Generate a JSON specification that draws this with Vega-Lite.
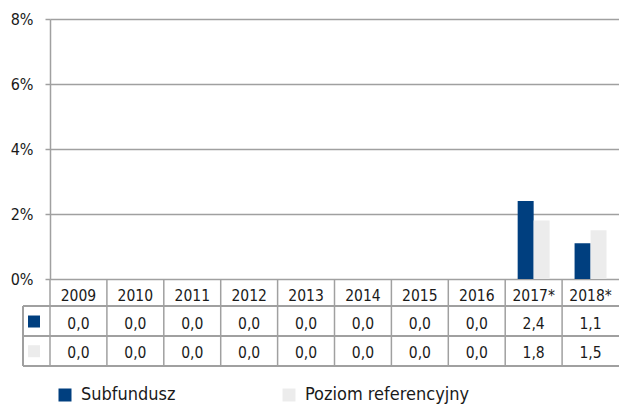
{
  "$schema": "https://vega.github.io/schema/vega-lite/v6.json",
  "width": 569,
  "height": 260,
  "autosize": {"type": "none"},
  "padding": {"left": 50, "top": 19, "right": 0, "bottom": 127},
  "background": "white",
  "config": {
    "view": {"stroke": null},
    "font": "'DejaVu Sans Condensed', 'DejaVu Sans'",
    "locale": {"number": {"decimal": ",", "thousands": " ", "grouping": [3], "currency": ["", " zł"]}}
  },
  "data": {
    "values": [
      {"year": "2009", "series": "Subfundusz", "value": 0},
      {"year": "2009", "series": "Poziom referencyjny", "value": 0},
      {"year": "2010", "series": "Subfundusz", "value": 0},
      {"year": "2010", "series": "Poziom referencyjny", "value": 0},
      {"year": "2011", "series": "Subfundusz", "value": 0},
      {"year": "2011", "series": "Poziom referencyjny", "value": 0},
      {"year": "2012", "series": "Subfundusz", "value": 0},
      {"year": "2012", "series": "Poziom referencyjny", "value": 0},
      {"year": "2013", "series": "Subfundusz", "value": 0},
      {"year": "2013", "series": "Poziom referencyjny", "value": 0},
      {"year": "2014", "series": "Subfundusz", "value": 0},
      {"year": "2014", "series": "Poziom referencyjny", "value": 0},
      {"year": "2015", "series": "Subfundusz", "value": 0},
      {"year": "2015", "series": "Poziom referencyjny", "value": 0},
      {"year": "2016", "series": "Subfundusz", "value": 0},
      {"year": "2016", "series": "Poziom referencyjny", "value": 0},
      {"year": "2017*", "series": "Subfundusz", "value": 2.4},
      {"year": "2017*", "series": "Poziom referencyjny", "value": 1.8},
      {"year": "2018*", "series": "Subfundusz", "value": 1.1},
      {"year": "2018*", "series": "Poziom referencyjny", "value": 1.5}
    ]
  },
  "resolve": {"scale": {"x": "independent"}},
  "layer": [
    {
      "layer": [
        {
          "mark": {"type": "bar"},
          "encoding": {
            "x": {"field": "year", "type": "ordinal", "sort": null, "scale": {"paddingInner": 0, "paddingOuter": 0}, "axis": null},
            "xOffset": {"field": "series", "type": "nominal", "sort": ["Subfundusz", "Poziom referencyjny"], "scale": {"paddingInner": 0, "paddingOuter": 0.78}},
            "y": {
              "field": "value", "type": "quantitative", "scale": {"domain": [0, 8], "nice": false},
              "axis": {
                "values": [0, 2, 4, 6, 8], "labelExpr": "datum.value + '%'", "title": null,
                "grid": true, "gridColor": "#a0a0a0", "gridWidth": 1.5,
                "domainColor": "#a0a0a0", "domainWidth": 1.5,
                "tickColor": "#a0a0a0", "tickWidth": 1.5, "tickSize": 5,
                "labelPadding": 12, "labelFontSize": 16, "labelColor": "#1a1a1a"
              }
            },
            "color": {
              "field": "series", "type": "nominal",
              "scale": {"domain": ["Subfundusz", "Poziom referencyjny"], "range": ["#003f7f", "#ececec"]},
              "legend": {
                "orient": "none", "legendX": 6, "legendY": 367, "direction": "horizontal",
                "title": null, "symbolType": "square", "symbolSize": 169, "symbolStrokeWidth": 0,
                "labelFontSize": 18, "labelOffset": 7, "labelLimit": 400, "columnPadding": 104, "labelColor": "#1a1a1a", "padding": 0
              }
            }
          }
        },
        {
          "transform": [{"filter": "datum.series === 'Subfundusz'"}],
          "mark": {"type": "rule", "color": "#a0a0a0", "strokeWidth": 1.5},
          "encoding": {
            "x": {"field": "year", "type": "ordinal", "sort": null, "bandPosition": 0, "axis": null},
            "y": {"datum": 0, "type": "quantitative", "scale": {"domain": [0, 8], "nice": false}, "title": null},
            "y2": {"datum": -2.67}
          }
        },
        {
          "transform": [{"filter": "datum.series === 'Subfundusz'"}],
          "mark": {"type": "text", "baseline": "alphabetic", "fontSize": 15.5, "color": "#1a1a1a"},
          "encoding": {
            "x": {"field": "year", "type": "ordinal", "sort": null, "axis": null},
            "y": {"datum": -0.665, "type": "quantitative", "scale": {"domain": [0, 8], "nice": false}, "title": null},
            "text": {"field": "year"}
          }
        },
        {
          "transform": [{"filter": "datum.series === 'Subfundusz'"}],
          "mark": {"type": "text", "baseline": "alphabetic", "fontSize": 15.5, "color": "#1a1a1a"},
          "encoding": {
            "x": {"field": "year", "type": "ordinal", "sort": null, "axis": null},
            "y": {"datum": -1.529, "type": "quantitative", "scale": {"domain": [0, 8], "nice": false}, "title": null},
            "text": {"field": "value", "type": "quantitative", "format": ".1f"}
          }
        },
        {
          "transform": [{"filter": "datum.series === 'Poziom referencyjny'"}],
          "mark": {"type": "text", "baseline": "alphabetic", "fontSize": 15.5, "color": "#1a1a1a"},
          "encoding": {
            "x": {"field": "year", "type": "ordinal", "sort": null, "axis": null},
            "y": {"datum": -2.44, "type": "quantitative", "scale": {"domain": [0, 8], "nice": false}, "title": null},
            "text": {"field": "value", "type": "quantitative", "format": ".1f"}
          }
        }
      ]
    },
    {
      "layer": [
        {
          "mark": {"type": "rule", "color": "#a0a0a0", "strokeWidth": 1.5},
          "encoding": {
            "x": {"datum": -0.4745, "type": "quantitative", "scale": {"domain": [0, 10], "nice": false, "zero": false}, "axis": null},
            "x2": {"datum": 10},
            "y": {"datum": -0.831, "type": "quantitative", "scale": {"domain": [0, 8], "nice": false}, "title": null}
          }
        },
        {
          "mark": {"type": "rule", "color": "#a0a0a0", "strokeWidth": 1.5},
          "encoding": {
            "x": {"datum": -0.4745, "type": "quantitative", "scale": {"domain": [0, 10], "nice": false, "zero": false}, "axis": null},
            "x2": {"datum": 10},
            "y": {"datum": -1.754, "type": "quantitative", "scale": {"domain": [0, 8], "nice": false}, "title": null}
          }
        },
        {
          "mark": {"type": "rule", "color": "#a0a0a0", "strokeWidth": 1.5},
          "encoding": {
            "x": {"datum": -0.4745, "type": "quantitative", "scale": {"domain": [0, 10], "nice": false, "zero": false}, "axis": null},
            "x2": {"datum": 10},
            "y": {"datum": -2.67, "type": "quantitative", "scale": {"domain": [0, 8], "nice": false}, "title": null}
          }
        },
        {
          "mark": {"type": "rule", "color": "#a0a0a0", "strokeWidth": 1.5},
          "encoding": {
            "x": {"datum": -0.4745, "type": "quantitative", "scale": {"domain": [0, 10], "nice": false, "zero": false}, "axis": null},
            "y": {"datum": -0.831, "type": "quantitative", "scale": {"domain": [0, 8], "nice": false}, "title": null},
            "y2": {"datum": -2.67}
          }
        },
        {
          "transform": [{"filter": "datum.year === '2009' && datum.series === 'Subfundusz'"}],
          "mark": {"type": "point", "shape": "square", "filled": true, "size": 144, "opacity": 1},
          "encoding": {
            "x": {"datum": -0.281, "type": "quantitative", "scale": {"domain": [0, 10], "nice": false, "zero": false}, "axis": null},
            "y": {"datum": -1.308, "type": "quantitative", "scale": {"domain": [0, 8], "nice": false}, "title": null},
            "color": {"field": "series", "type": "nominal", "scale": {"domain": ["Subfundusz", "Poziom referencyjny"], "range": ["#003f7f", "#ececec"]}, "legend": null}
          }
        },
        {
          "transform": [{"filter": "datum.year === '2009' && datum.series === 'Poziom referencyjny'"}],
          "mark": {"type": "point", "shape": "square", "filled": true, "size": 144, "opacity": 1},
          "encoding": {
            "x": {"datum": -0.281, "type": "quantitative", "scale": {"domain": [0, 10], "nice": false, "zero": false}, "axis": null},
            "y": {"datum": -2.222, "type": "quantitative", "scale": {"domain": [0, 8], "nice": false}, "title": null},
            "color": {"field": "series", "type": "nominal", "scale": {"domain": ["Subfundusz", "Poziom referencyjny"], "range": ["#003f7f", "#ececec"]}, "legend": null}
          }
        }
      ]
    }
  ]
}
